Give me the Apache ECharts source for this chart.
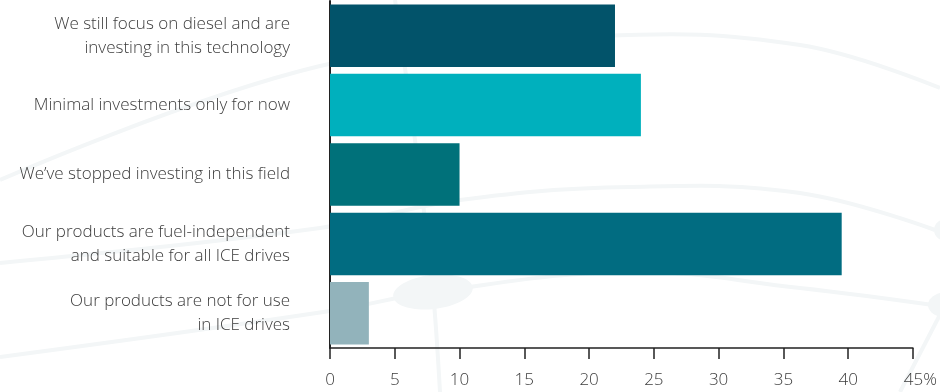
<!doctype html>
<html lang="en">
<head>
    <meta charset="UTF-8">
    <title>ICE investment</title>
    <style>
        html, body { margin: 0; padding: 0; background: #fff; }
        #main { width: 940px; height: 392px; }
    </style>
</head>
<body>
    <div id="main"></div>
<script src="https://cdn.jsdelivr.net/npm/echarts@6/dist/echarts.min.js"></script>
<script type="text/javascript">
    // answers, top to bottom
    const categories = [
        'We still focus on diesel and are\ninvesting in this technology',
        'Minimal investments only for now',
        'We\u2019ve stopped investing in this field',
        'Our products are fuel-independent\nand suitable for all ICE drives',
        'Our products are not for use\nin ICE drives'
    ]
    const values = [22, 24, 10, 39.5, 3]
    const barColors = ['#02536a', '#00b0bd', '#00717a', '#016c81', '#92b3bb']
    const xTicks = [0, 5, 10, 15, 20, 25, 30, 35, 40, 45]

    const myChart = echarts.init(document.getElementById('main'))
    const fontFamily = '"Open Sans", Lato, sans-serif'
    const bgLine = '#f3f6f7'

    // faint background swirl (decoration only)
    const deco = [
        { type: 'polyline', shape: { points: [[0, 180], [320, 66], [600, 36], [800, 45], [940, 88]], smooth: 0.4 } },
        { type: 'polyline', shape: { points: [[0, 263], [320, 228], [460, 200], [630, 187], [800, 193], [935, 230]], smooth: 0.4 } },
        { type: 'polyline', shape: { points: [[0, 357], [330, 311], [433, 292], [630, 272], [800, 288], [940, 306]], smooth: 0.4 } },
        { type: 'polyline', shape: { points: [[395, 0], [415, 140], [433, 292], [440, 392]], smooth: 0.3 } },
        { type: 'polyline', shape: { points: [[945, 305], [900, 392]] } }
    ].map(d => Object.assign(d, { silent: true, z: -1, style: { stroke: bgLine, lineWidth: 4, fill: null } }))
    deco.push(
        { type: 'ellipse', shape: { cx: 433, cy: 292, rx: 40, ry: 17 }, rotation: 0.12, originX: 433, originY: 292, silent: true, z: -1, style: { fill: bgLine } },
        { type: 'ellipse', shape: { cx: 948, cy: 305, rx: 20, ry: 13 }, silent: true, z: -1, style: { fill: bgLine } },
        { type: 'ellipse', shape: { cx: 946, cy: 230, rx: 12, ry: 11 }, silent: true, z: -1, style: { fill: bgLine } }
    )

    const option = {
        animation: false,
        graphic: deco,
        grid: { left: 330, right: 27, top: 1, bottom: 44, containLabel: false },
        xAxis: {
            type: 'value',
            min: xTicks[0],
            max: xTicks[xTicks.length - 1],
            interval: 5,
            axisLine: { show: true, lineStyle: { color: '#222', width: 1.5 } },
            axisTick: { show: true, length: 11, lineStyle: { color: '#222', width: 1.5 } },
            axisLabel: {
                color: '#3c3c3c', fontSize: 17, fontFamily, fontWeight: 300, margin: 24,
                // last tick gets the unit, keeping the number centred on the tick
                formatter: v => v === xTicks[xTicks.length - 1] ? '{n|' + v + '}{p|%}' : String(v),
                rich: {
                    n: { padding: [0, 0, 0, 15], color: '#3c3c3c', fontSize: 17, fontFamily, fontWeight: 300 },
                    p: { color: '#3c3c3c', fontSize: 17, fontFamily, fontWeight: 300 }
                }
            },
            splitLine: { show: false }
        },
        yAxis: {
            type: 'category',
            data: categories,
            inverse: true,
            axisLine: { show: true, lineStyle: { color: '#222', width: 2 } },
            axisTick: { show: false },
            axisLabel: { color: '#3c3c3c', fontSize: 17, fontFamily, fontWeight: 300, margin: 40, lineHeight: 24, align: 'right' }
        },
        series: [{
            type: 'bar',
            data: values.map((v, i) => ({ value: v, itemStyle: { color: barColors[i] } })),
            barCategoryGap: '10%'
        }]
    }
    myChart.setOption(option)
</script>
</body>
</html>
